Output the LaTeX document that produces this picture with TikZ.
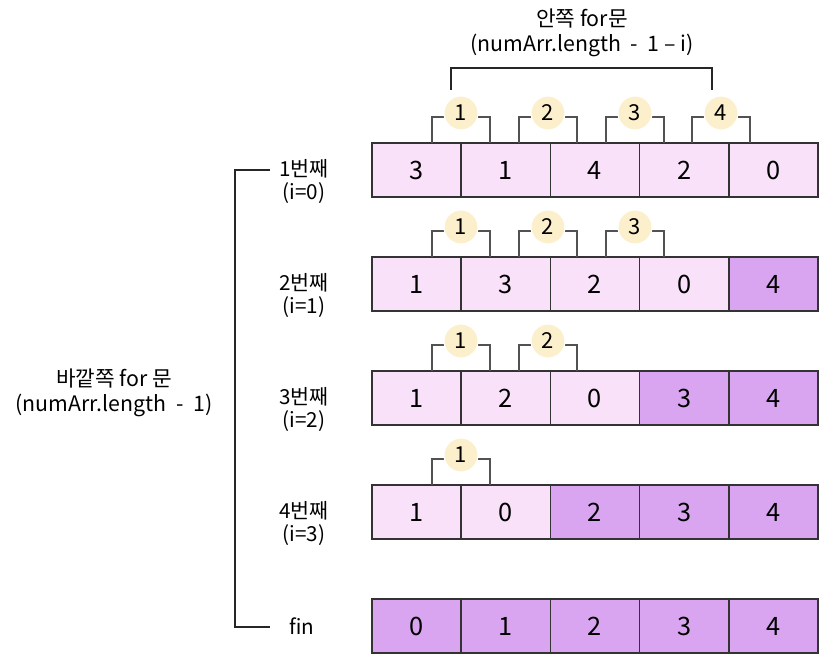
\documentclass[tikz,border=0pt]{standalone}
\usepackage{fontspec}
\setmainfont{Noto Sans CJK KR}
\newfontfamily\digitfont{Noto Sans CJK KR}
\usetikzlibrary{calc}
\definecolor{cellL}{HTML}{F8E1F9}
\definecolor{cellD}{HTML}{D9A5F0}
\definecolor{badgec}{HTML}{FCEFCB}
\definecolor{ink}{HTML}{333333}
\begin{document}
\begin{tikzpicture}[x=0.75pt,y=-0.75pt,
 cell/.style={draw=ink,line width=1.1pt,minimum width=66.9pt,minimum height=40.5pt,inner sep=0pt,outer sep=0pt,font=\digitfont\fontsize{19}{19}\selectfont},
 light/.style={cell,fill=cellL},
 dark/.style={cell,fill=cellD},
 badge/.style={circle,fill=badgec,draw=white,line width=0.8pt,minimum size=25.5pt,inner sep=0pt,font=\fontsize{16.5}{16.5}\selectfont},
 brk/.style={draw=ink!85,line width=0.8pt},
 bigbrk/.style={draw=black!85,line width=1.4pt},
 lbl/.style={align=center,font=\fontsize{15.5}{17.5}\selectfont},
 biglbl/.style={align=center,font=\fontsize{16}{19}\selectfont}]
\useasboundingbox[fill=white] (0,0) rectangle (820,658);

% rows: index / top / values / number of light cells
\foreach \r/\T/\vals/\nl in {1/143/{3,1,4,2,0}/5, 2/257/{1,3,2,0,4}/4, 3/371/{1,2,0,3,4}/3, 4/485/{1,0,2,3,4}/2, 5/599/{0,1,2,3,4}/0}{
  \foreach \v [count=\c] in \vals {
    \pgfmathsetmacro{\cx}{372+89.2*(\c-0.5)}
    \ifnum\c>\nl
      \node[dark] (c\r\c) at (\cx,\T+27) {\v};
    \else
      \node[light] (c\r\c) at (\cx,\T+27) {\v};
    \fi
  }
}

% small brackets and badges
\foreach \r/\T/\n in {1/143/4, 2/257/3, 3/371/2, 4/485/1}{
  \foreach \bx [count=\k] in {461,548,635,721}{
    \ifnum\k>\n\else
      \coordinate (b\r\k) at (\bx,\T-30);
      \draw[brk] ($(b\r\k)+(-29,30)$) -- ++(0,-26) -- ++(58,0) -- ++(0,26);
      \node[badge] (n\r\k) at (b\r\k) {\k};
    \fi
  }
}

% row labels
\node[lbl] (l1) at (304,181.5) {1번째\\(i=0)};
\node[lbl] (l2) at (304,295.5) {2번째\\(i=1)};
\node[lbl] (l3) at (304,409.5) {3번째\\(i=2)};
\node[lbl] (l4) at (304,523.5) {4번째\\(i=3)};
\node[lbl] (l5) at (302,626) {fin};

% outer bracket
\coordinate (otop) at (270,170);
\coordinate (obot) at (270,627);
\draw[bigbrk] (otop) -- (235,170) -- (235,627) -- (obot);
\node[biglbl] (outer) at (114,393) {바깥쪽 for 문\\(numArr.length\ \ -\ \ 1)};

% inner bracket
\coordinate (itl) at (451,90);
\coordinate (itr) at (712,90);
\draw[bigbrk] (itl) -- (451,68) -- (712,68) -- (itr);
\node[biglbl] (inner) at (582,33) {안쪽 for문\\(numArr.length\ \ -\ \ 1 – i)};
\end{tikzpicture}
\end{document}
